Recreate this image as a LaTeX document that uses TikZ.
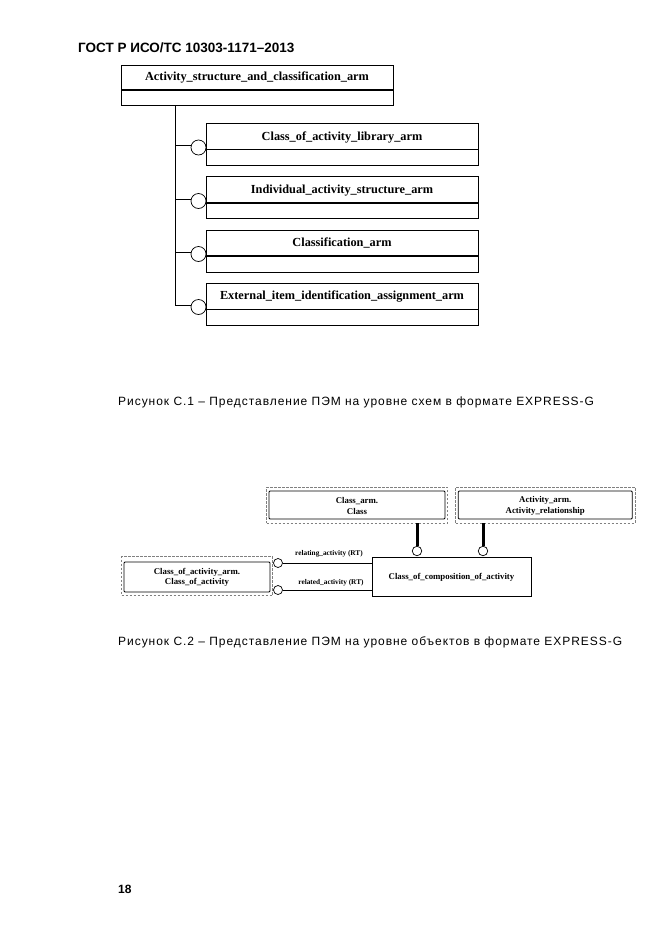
\documentclass[tikz,border=0pt]{standalone}
\usepackage{fontspec}
\setmainfont{Liberation Serif}
\newfontfamily\arial{Liberation Sans}
\newfontfamily\capfont[LetterSpace=8]{Liberation Sans}
\begin{document}
\begin{tikzpicture}[x=1pt,y=-1pt,
  ebox/.style={draw, line width=0.8pt, inner sep=0pt},
  etitle/.style={font=\fontsize{12.3}{14}\selectfont\bfseries, inner sep=0pt},
  divider/.style={line width=1.4pt},
  ring/.style={draw, circle, line width=0.7pt, inner sep=0pt, fill=white},
  dbox/.style={draw=gray, dashed, dash pattern=on 2.5pt off 1.5pt, line width=0.8pt, inner sep=0pt},
  ibox/.style={draw, line width=0.9pt, inner sep=0pt, rounded corners=1pt},
  stext/.style={font=\fontsize{8.8}{10.5}\selectfont\bfseries, align=center, inner sep=0pt},
  rtext/.style={font=\fontsize{7.3}{9}\selectfont\bfseries, inner sep=0pt},
  thick line/.style={line width=3pt},
  link/.style={line width=0.7pt}
]
\useasboundingbox (0,0) rectangle (661,935);

% header
\node[anchor=base west, inner sep=0pt, font=\arial\fontsize{13.5}{16}\selectfont\bfseries] (hdr) at (78,52) {ГОСТ Р ИСО/ТС 10303-1171–2013};

% ---------- Figure C.1 ----------
\node[ebox, minimum width=272pt, minimum height=40pt] (A) at (257,85) {};
\node[etitle] (At) at (257,77) {Activity\_structure\_and\_classification\_arm};
\draw[divider] (121,90) -- (393,90);

\node[ebox, minimum width=272pt, minimum height=42pt] (B1) at (342,144) {};
\node[etitle] (B1t) at (342,137) {Class\_of\_activity\_library\_arm};
\draw[divider] (206,149.5) -- (478,149.5);

\node[ebox, minimum width=272pt, minimum height=42pt] (B2) at (342,197.5) {};
\node[etitle] (B2t) at (342,190.5) {Individual\_activity\_structure\_arm};
\draw[divider] (206,203) -- (478,203);

\node[ebox, minimum width=272pt, minimum height=42pt] (B3) at (342,251) {};
\node[etitle] (B3t) at (342,243.5) {Classification\_arm};
\draw[divider] (206,256) -- (478,256);

\node[ebox, minimum width=272pt, minimum height=42pt] (B4) at (342,304) {};
\node[etitle] (B4t) at (342,297) {External\_item\_identification\_assignment\_arm};
\draw[divider] (206,309.5) -- (478,309.5);

\node[ring, minimum size=15pt] (c1) at (198.5,147.5) {};
\node[ring, minimum size=15pt] (c2) at (198.5,201) {};
\node[ring, minimum size=15pt] (c3) at (198.5,254) {};
\node[ring, minimum size=15pt] (c4) at (198.5,307) {};

\coordinate (tk) at (175,105);
\draw[link] (A.south -| tk) -- (tk |- c4.165);
\foreach \c in {c1,c2,c3,c4}{
  \draw[link] (tk |- \c.165) -- (\c.165);
}

\node[anchor=base west, inner sep=0pt, font=\capfont\fontsize{12}{14}\selectfont] (cap1) at (118,405) {Рисунок С.1 – Представление ПЭМ на уровне схем в формате EXPRESS-G};

% ---------- Figure C.2 ----------
\node[dbox, minimum width=181pt, minimum height=36pt] (Co) at (357,505) {};
\node[ibox, minimum width=176pt, minimum height=28pt] (C) at (357,505) {};
\node[stext] (Ct) at (357,506) {Class\_arm.\\Class};

\node[dbox, minimum width=179.5pt, minimum height=36pt] (Ro) at (545.25,505) {};
\node[ibox, minimum width=174pt, minimum height=28pt] (R) at (545.25,505) {};
\node[stext] (Rt) at (545.25,506) {Activity\_arm.\\Activity\_relationship};

\node[ebox, minimum width=159pt, minimum height=39pt] (K) at (451.5,576.5) {};
\node[stext] (Kt) at (451.5,577) {Class\_of\_composition\_of\_activity};

\node[dbox, minimum width=151pt, minimum height=39pt] (Lo) at (197,576) {};
\node[ibox, minimum width=146pt, minimum height=30pt] (L) at (197,577) {};
\node[stext] (Lt) at (197,577.5) {Class\_of\_activity\_arm.\\Class\_of\_activity};

\node[ring, minimum size=9.5pt] (d1) at (417,551) {};
\node[ring, minimum size=9.5pt] (d2) at (483,551) {};
\draw[thick line] (d1.north |- Co.south) -- (d1.north);
\draw[thick line] (d2.north |- Ro.south) -- (d2.north);

\node[ring, minimum size=9pt] (e1) at (278,563) {};
\node[ring, minimum size=9pt] (e2) at (278,590) {};
\draw[link] (e1.east) -- (e1.east -| K.west);
\draw[link] (e2.east) -- (e2.east -| K.west);
\node[rtext, anchor=base] (l1) at (329,555) {relating\_activity (RT)};
\node[rtext, anchor=base] (l2) at (331,584) {related\_activity (RT)};

\node[anchor=base west, inner sep=0pt, font=\capfont\fontsize{12}{14}\selectfont] (cap2) at (118,645) {Рисунок С.2 – Представление ПЭМ на уровне объектов в формате EXPRESS-G};

\node[anchor=base west, inner sep=0pt, font=\arial\fontsize{12}{14}\selectfont\bfseries] (pg) at (118,893) {18};
\end{tikzpicture}
\end{document}
